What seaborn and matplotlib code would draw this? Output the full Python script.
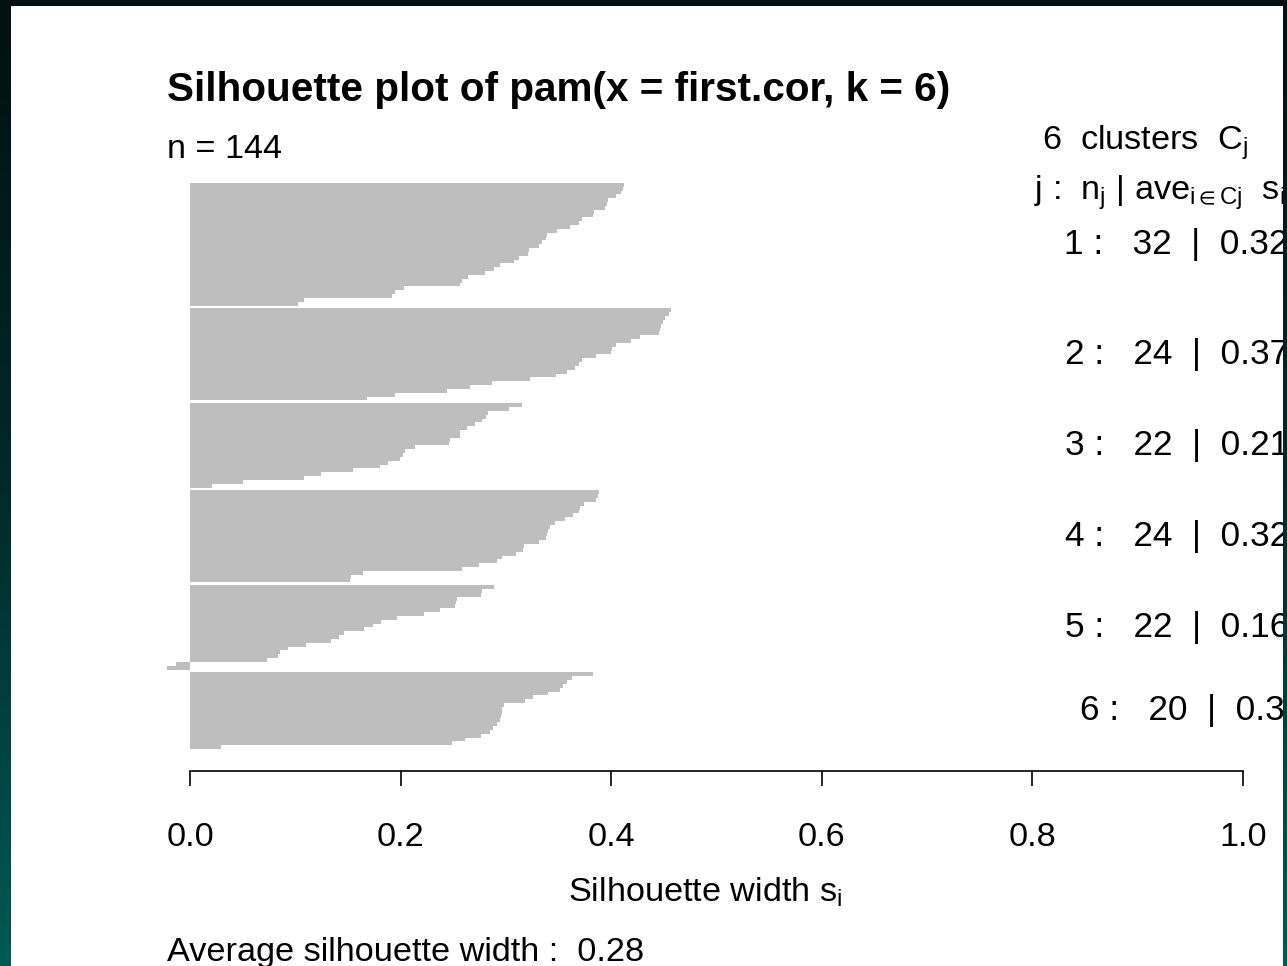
import numpy as np
import pandas as pd
import matplotlib
matplotlib.use("Agg")
import matplotlib.pyplot as plt
import matplotlib.transforms as mtransforms
from matplotlib.patches import Rectangle
from matplotlib.colors import LinearSegmentedColormap
import seaborn as sns

# ---------------- data ----------------
cluster_ids = [1, 2, 3, 4, 5, 6]
sil_c1 = [0.412, 0.411, 0.409, 0.405, 0.397, 0.396, 0.394, 0.384, 0.383, 0.372,
          0.369, 0.361, 0.349, 0.339, 0.338, 0.334, 0.331, 0.322, 0.321, 0.312,
          0.308, 0.294, 0.289, 0.280, 0.264, 0.258, 0.256, 0.203, 0.195, 0.192,
          0.108, 0.103]
sil_c2 = [0.457, 0.455, 0.451, 0.449, 0.447, 0.446, 0.445, 0.427, 0.419, 0.405,
          0.401, 0.400, 0.386, 0.372, 0.369, 0.366, 0.358, 0.348, 0.323, 0.287,
          0.266, 0.244, 0.195, 0.168]
sil_c3 = [0.315, 0.303, 0.283, 0.281, 0.277, 0.271, 0.263, 0.256, 0.256, 0.247,
          0.246, 0.214, 0.204, 0.202, 0.199, 0.188, 0.180, 0.155, 0.124, 0.108,
          0.050, 0.021]
sil_c4 = [0.388, 0.387, 0.386, 0.374, 0.370, 0.369, 0.364, 0.356, 0.347, 0.342,
          0.340, 0.339, 0.338, 0.331, 0.317, 0.316, 0.310, 0.296, 0.292, 0.274,
          0.258, 0.164, 0.153, 0.152]
sil_c5 = [0.289, 0.277, 0.276, 0.254, 0.253, 0.252, 0.237, 0.2225, 0.197, 0.181,
          0.1735, 0.165, 0.146, 0.1415, 0.134, 0.110, 0.093, 0.085, 0.084, 0.073,
          -0.013, -0.022]
sil_c6 = [0.383, 0.363, 0.358, 0.354, 0.351, 0.340, 0.326, 0.318, 0.298, 0.296,
          0.296, 0.295, 0.294, 0.292, 0.288, 0.285, 0.276, 0.261, 0.249, 0.029]
cluster_avg_labels = ["0.32", "0.37", "0.21", "0.32", "0.16", "0.3"]
x_ticks = [0.0, 0.2, 0.4, 0.6, 0.8, 1.0]
x_tick_labels = ["0.0", "0.2", "0.4", "0.6", "0.8", "1.0"]
title_text = "Silhouette plot of pam(x = first.cor, k = 6)"
avg_label = "Average silhouette width :  0.28"

groups = [sil_c1, sil_c2, sil_c3, sil_c4, sil_c5, sil_c6]

# ---------------- build table ----------------
GAP = 0.75
rows = []
pos = 0.0
for cid, vals in zip(cluster_ids, groups):
    for v in sorted(vals, reverse=True):
        rows.append({"cluster": cid, "pos": pos, "sil": v})
        pos += 1.0
    pos += GAP
df = pd.DataFrame(rows)
n_total = len(df)

# ---------------- figure / style ----------------
W, H = 1287, 966
sns.set_theme(style="white")
plt.rcParams['font.family'] = ['Liberation Sans', 'DejaVu Sans']
plt.rcParams['mathtext.fontset'] = 'custom'
plt.rcParams['mathtext.rm'] = 'Liberation Sans'
plt.rcParams['mathtext.it'] = 'Liberation Sans:italic'
plt.rcParams['mathtext.bf'] = 'Liberation Sans:bold'
plt.rcParams['text.color'] = 'black'
plt.rcParams['axes.labelcolor'] = 'black'
plt.rcParams['xtick.color'] = 'black'
plt.rcParams['ytick.color'] = 'black'

FS = 24.7
FS_STAT = 25.4

fig = plt.figure(figsize=(W / 100, H / 100), dpi=100)
fig.patch.set_facecolor('#021010')

# dark gradient frame
cmap = LinearSegmentedColormap.from_list("frame", ["#021010", "#01292a", "#005a55"])
grad = np.linspace(0, 1, 256).reshape(-1, 1)
bg = fig.add_axes([0, 0, 1, 1], zorder=-3)
bg.imshow(grad, aspect='auto', cmap=cmap, extent=[0, 1, 1, 0], origin='upper')
bg.set_xlim(0, 1); bg.set_ylim(1, 0)
bg.axis('off')
fig.patches.append(Rectangle((11 / W, 0), (1283 - 11) / W, (H - 6) / H,
                             transform=fig.transFigure, facecolor='white',
                             edgecolor='none', zorder=-2))

# main axes: pixel geometry
x0_px, x1_px = 190, 1243          # data 0 and 1
xlo, xhi = -0.045, 1.04
pxu = (x1_px - x0_px)
ax_left = x0_px + xlo * pxu
ax_right = x0_px + xhi * pxu
bar_top_px, bar_bot_px = 183, 749
ax_top_px, ax_bot_px = 171, 771
last = df["pos"].max()
u = (bar_bot_px - bar_top_px) / (last + 1.0)
ytop = -0.5 - (bar_top_px - ax_top_px) / u
ybot = last + 0.5 + (ax_bot_px - bar_bot_px) / u

ax = fig.add_axes([ax_left / W, 1 - ax_bot_px / H,
                   (ax_right - ax_left) / W, (ax_bot_px - ax_top_px) / H])
ax.set_facecolor('none')

sns.barplot(data=df, x="sil", y="pos", orient="h", native_scale=True,
            color="#bebebe", saturation=1, width=1.0, linewidth=0,
            errorbar=None, ax=ax)
ax.set_xlim(xlo, xhi)
ax.set_ylim(ybot, ytop)
for s in ["top", "right", "left"]:
    ax.spines[s].set_visible(False)
ax.spines["bottom"].set_bounds(0, 1)
ax.spines["bottom"].set_color("black")
ax.spines["bottom"].set_linewidth(1.2)
ax.set_xticks(x_ticks)
ax.set_xticklabels(x_tick_labels)
ax.set_yticks([])
ax.tick_params(axis="x", direction="out", length=11, width=1.2, color="black",
               pad=26, labelsize=FS, labelcolor="black", bottom=True)
ax.set_xlabel("")
ax.set_ylabel("")
ax.grid(False)

# x label
fig.text(705 / W, 1 - 902 / H, r"Silhouette width $\mathregular{s_i}$",
         ha="center", va="baseline", fontsize=FS, color="black")

# title and annotations
fig.text(167 / W, 1 - 101 / H, title_text, ha="left", va="baseline",
         fontsize=29.2, fontweight="bold", color="black")
fig.text(167 / W, 1 - 158 / H, f"n = {n_total}", ha="left", va="baseline",
         fontsize=FS, color="black")
fig.text(1042 / W, 1 - 150 / H, f"{len(cluster_ids)}  clusters  " + r"$\mathregular{C_j}$",
         ha="left", va="baseline", fontsize=FS, color="black")
fig.text(1034 / W, 1 - 200 / H,
         r"j :  $\mathregular{n_j}$ | $\mathregular{ave_{i\in Cj}}$  $\mathregular{s_i}$",
         ha="left", va="baseline", fontsize=FS, color="black")
fig.text(167 / W, 1 - 961 / H, avg_label, ha="left", va="baseline",
         fontsize=FS, color="black")

# per-cluster stats, placed like R's text(..., adj = 0.8) at x = 1
renderer = fig.canvas.get_renderer()
for cid, lab in zip(cluster_ids, cluster_avg_labels):
    sub = df[df["cluster"] == cid]
    yc = sub["pos"].mean()
    s = f"{cid} :   {len(sub)}  |  {lab}"
    t = ax.text(1.0, yc, s, ha="left", va="center", fontsize=FS_STAT,
                color="black", clip_on=False)
    w = t.get_window_extent(renderer).width
    t.set_transform(mtransforms.offset_copy(ax.transData, fig=fig,
                                            x=-0.8 * w + 1, y=0, units="dots"))

# right frame strip on top (clips text like the reference)
rs = fig.add_axes([1283 / W, 0, (W - 1283) / W, 1], zorder=10)
rs.imshow(grad, aspect='auto', cmap=cmap, extent=[0, 1, 1, 0], origin='upper')
rs.set_xlim(0, 1); rs.set_ylim(1, 0)
rs.axis('off')

fig.savefig("out.png", dpi=100, facecolor=fig.get_facecolor())
